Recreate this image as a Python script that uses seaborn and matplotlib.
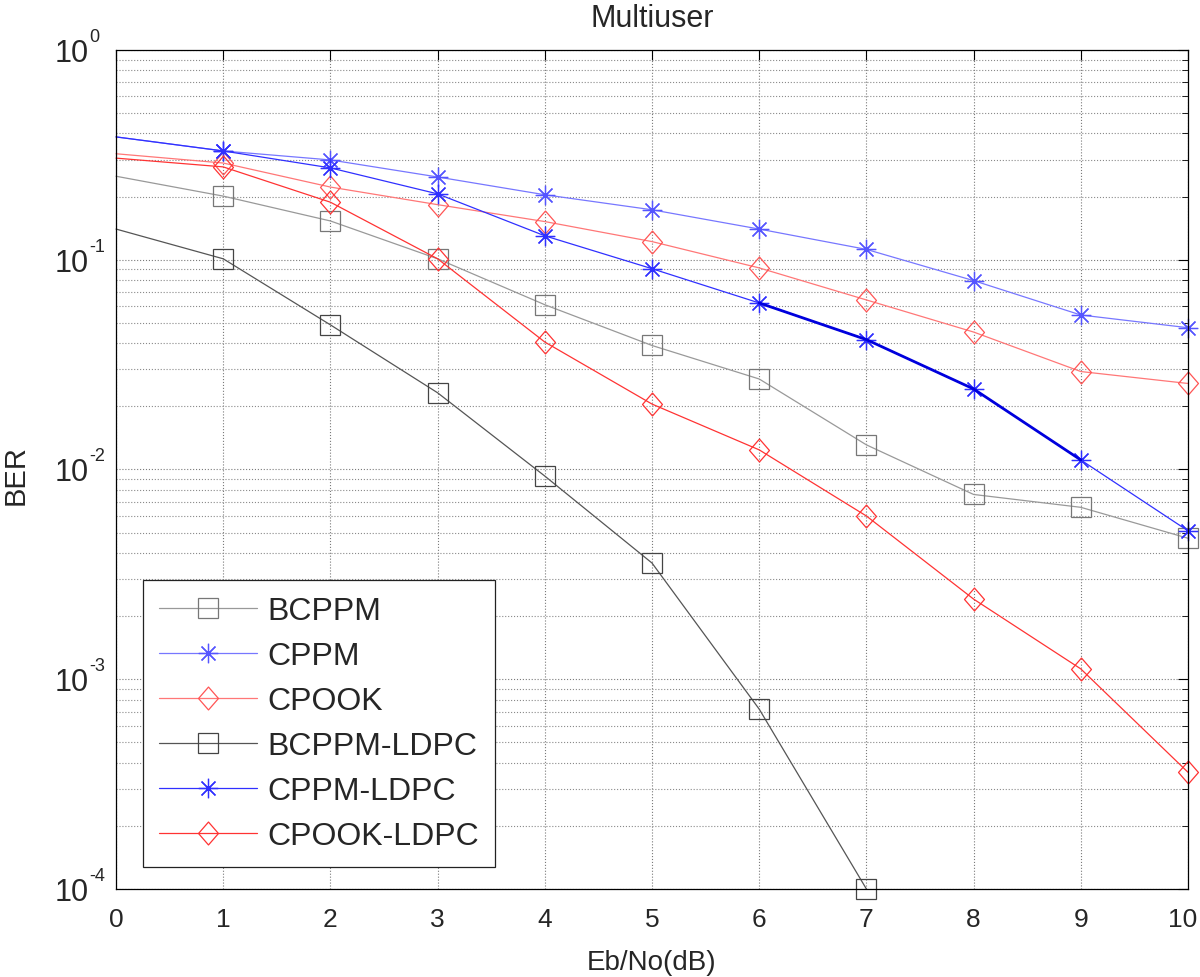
import numpy as np
import matplotlib
matplotlib.use("Agg")
import matplotlib.pyplot as plt
import matplotlib.transforms as mtransforms
import seaborn as sns
from matplotlib.ticker import LogLocator, FixedLocator, NullFormatter
from matplotlib.path import Path

ebno = [0, 1, 2, 3, 4, 5, 6, 7, 8, 9, 10]
bcppm = [0.25, 0.201, 0.153, 0.101, 0.061, 0.039, 0.027, 0.0131, 0.0076, 0.0066, 0.0047]
cppm = [0.385, 0.33, 0.299, 0.248, 0.204, 0.173, 0.140, 0.112, 0.0795, 0.0545, 0.0474]
cpook = [0.32, 0.289, 0.222, 0.183, 0.152, 0.122, 0.0914, 0.0643, 0.0452, 0.0293, 0.0257]
ebno_b_ldpc = [0, 1, 2, 3, 4, 5, 6, 7]
bcppm_ldpc = [0.140, 0.101, 0.0489, 0.0232, 0.0093, 0.00358, 0.00072, 0.0001]
cppm_ldpc = [0.385, 0.33, 0.274, 0.206, 0.130, 0.0906, 0.0622, 0.0416, 0.0242, 0.0111, 0.0051]
cpook_ldpc = [0.305, 0.277, 0.188, 0.101, 0.0405, 0.0205, 0.0124, 0.0060, 0.00241, 0.00112, 0.00036]

labels = ["BCPPM", "CPPM", "CPOOK", "BCPPM-LDPC", "CPPM-LDPC", "CPOOK-LDPC"]
xticks = [0, 1, 2, 3, 4, 5, 6, 7, 8, 9, 10]
ytick_exps = [0, -1, -2, -3, -4]

sns.set_style("white")
plt.rcParams['font.family'] = ['Liberation Sans', 'DejaVu Sans']

fig = plt.figure(figsize=(12, 9.78), dpi=100)
ax = fig.add_axes([0.0967, 0.0900, 0.8933, 0.8579])

diamond = Path([(0, 1), (0.87, 0), (0, -1), (-0.87, 0), (0, 1)],
               [Path.MOVETO, Path.LINETO, Path.LINETO, Path.LINETO, Path.CLOSEPOLY])
star = (8, 2, 0)

series = [
    (ebno, bcppm, "#999999", "#777777", "s", 14.5),
    (ebno, cppm, "#7777ff", "#5555ff", star, 14),
    (ebno, cpook, "#ff7777", "#ff5555", diamond, 16.5),
    (ebno_b_ldpc, bcppm_ldpc, "#555555", "#444444", "s", 14.5),
    (ebno, cppm_ldpc, "#3030ff", "#3030ff", star, 14),
    (ebno, cpook_ldpc, "#ff3333", "#ff3333", diamond, 16.5),
]

for (xs, ys, lc, mc, mk, ms), lab in zip(series, labels):
    sns.lineplot(x=xs, y=ys, ax=ax, color=lc, marker=mk, markersize=ms,
                 markerfacecolor='none', markeredgecolor=mc, markeredgewidth=0.9,
                 linewidth=0.9, markevery=list(range(1, len(xs))), label=lab,
                 estimator=None, sort=False, clip_on=False)

# thick overdrawn part of CPPM-LDPC curve seen in the reference
sns.lineplot(x=ebno[6:10], y=cppm_ldpc[6:10], ax=ax, color="#0000dd",
             linewidth=2.0, estimator=None, sort=False, legend=False)

ax.set_yscale('log')
ax.set_xlim(0, 10)
ax.set_ylim(1e-4, 1)
ax.xaxis.set_major_locator(FixedLocator(xticks))
ax.yaxis.set_major_locator(LogLocator(base=10, numticks=10))
ax.yaxis.set_minor_locator(LogLocator(base=10, subs=np.arange(2, 10), numticks=100))
ax.yaxis.set_major_formatter(NullFormatter())
ax.yaxis.set_minor_formatter(NullFormatter())

ax.grid(True, which='major', axis='both', color='#7a7a7a', linewidth=0.8, linestyle=':')
ax.grid(True, which='minor', axis='y', color='#8a8a8a', linewidth=0.8, linestyle=':')
ax.set_axisbelow(True)

ax.tick_params(axis='both', which='both', direction='in', top=True, right=True,
               color='black')
ax.tick_params(axis='x', which='major', labelsize=19, pad=13, length=7)
ax.tick_params(axis='y', which='major', length=7)
ax.tick_params(axis='y', which='minor', length=4)
for sp in ax.spines.values():
    sp.set_color('black')
    sp.set_linewidth(0.9)

# y tick labels in "10^n" form
for e in ytick_exps:
    ax.annotate("10", xy=(0, 10.0 ** e), xycoords=('axes fraction', 'data'),
                xytext=(-27, -11), textcoords='offset pixels',
                ha='right', va='baseline', fontsize=22)
    ax.annotate(str(e), xy=(0, 10.0 ** e), xycoords=('axes fraction', 'data'),
                xytext=(-27, 9), textcoords='offset pixels',
                ha='left', va='baseline', fontsize=13)

ax.set_title("Multiuser", fontsize=22, pad=17)
ax.set_xlabel("Eb/No(dB)", fontsize=20, labelpad=13)
ax.set_ylabel("BER", fontsize=21)
ax.yaxis.set_label_coords(-0.081, 0.495)

fig.canvas.draw()
last = ax.get_xticklabels()[-1]
last.set_transform(last.get_transform() +
                   mtransforms.ScaledTranslation(-5 / 100, 0, fig.dpi_scale_trans))

leg = ax.legend(loc='upper left', bbox_to_anchor=(0.0252, 0.3683), borderaxespad=0,
                fontsize=23, handlelength=3.07, labelspacing=0.47, fancybox=False,
                framealpha=1, edgecolor='#222222', borderpad=0.5, handletextpad=0.31)
leg.get_frame().set_linewidth(0.9)

fig.savefig("out.png", dpi=100, facecolor='white')
